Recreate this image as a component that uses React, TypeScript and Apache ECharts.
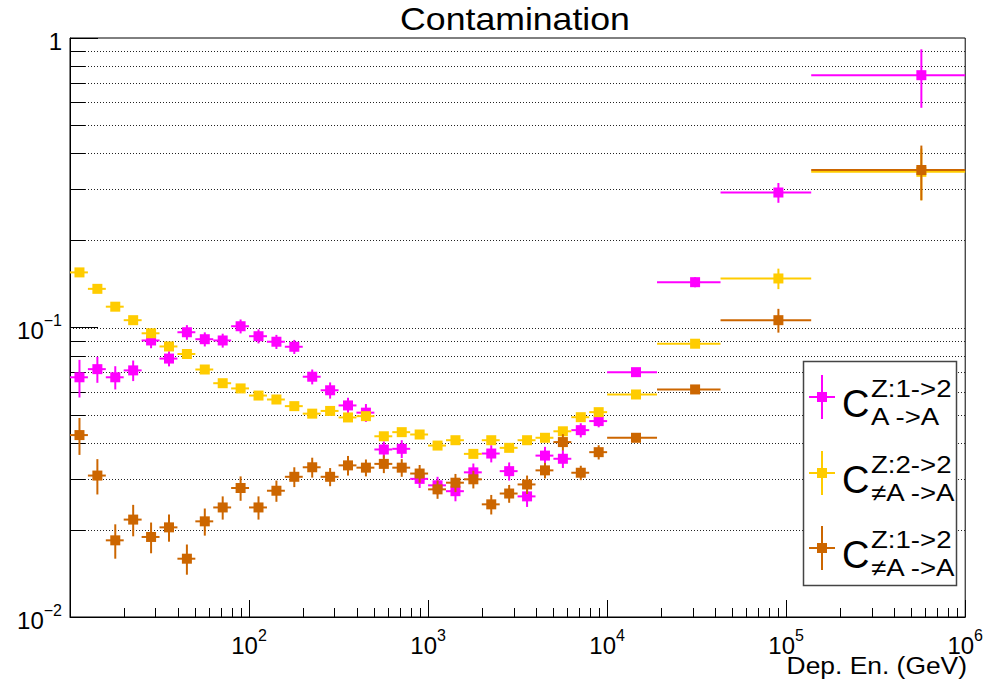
import React, { useEffect, useRef } from 'react';
import * as echarts from 'echarts';

const FONT = '"Liberation Sans", Arial, Helvetica, sans-serif';

const TITLE = 'Contamination';
const X_NAME = 'Dep. En. (GeV)';

// bin edges (GeV)
const BIN_EDGES = [
  10, 12.59, 15.85, 19.95, 25.12, 31.62, 39.81, 50.12, 63.1, 79.43,
  100, 125.9, 158.5, 199.5, 251.2, 316.2, 398.1, 501.2, 631.0, 794.3,
  1000, 1259, 1585, 1995, 2512, 3162, 3981, 5012, 6310, 7943,
  10000, 19000, 43000, 138000, 1000000,
];

const MAGENTA_VALS = [
  0.0673, 0.0718, 0.0673, 0.0711, 0.0902, 0.0781, 0.0963, 0.0911, 0.0902, 0.101,
  0.0933, 0.0893, 0.0858, 0.0676, 0.0607, 0.0538, 0.0508, 0.0379, 0.0381, 0.03,
  0.0285, 0.0272, 0.0316, 0.0367, 0.0319, 0.0261, 0.0361, 0.0352, 0.0442, 0.0475,
  0.0701, 0.1434, 0.2926, 0.744,
];
const MAGENTA_ERRS = [
  0.01, 0.0074, 0.0062, 0.0058, 0.0054, 0.0047, 0.0056, 0.0051, 0.005, 0.0056,
  0.0052, 0.005, 0.0048, 0.004, 0.0039, 0.0034, 0.0036, 0.0025, 0.0027, 0.0021,
  0.002, 0.0021, 0.0023, 0.0025, 0.0023, 0.0021, 0.0026, 0.0025, 0.0025, 0.0023,
  0.0017, 0.0057, 0.023, 0.17,
];

const YELLOW_VALS = [
  0.155, 0.136, 0.118, 0.106, 0.0955, 0.086, 0.081, 0.0716, 0.0642, 0.0616,
  0.0582, 0.0564, 0.0535, 0.0504, 0.0515, 0.0489, 0.0494, 0.0421, 0.0435, 0.0427,
  0.0391, 0.0408, 0.0366, 0.0408, 0.0384, 0.0408, 0.0416, 0.0438, 0.049, 0.051,
  0.0587, 0.0879, 0.1477, 0.345,
];
const YELLOW_ERRS = [
  0.003, 0.0027, 0.0024, 0.0021, 0.0019, 0.0017, 0.0016, 0.0014, 0.0013, 0.0012,
  0.0012, 0.0011, 0.0011, 0.001, 0.001, 0.001, 0.001, 0.0008, 0.0009, 0.0009,
  0.0008, 0.0008, 0.0007, 0.0008, 0.0008, 0.0008, 0.0008, 0.0009, 0.001, 0.001,
  0.0012, 0.0026, 0.012, 0.07,
];

const ORANGE_VALS = [
  0.0425, 0.0308, 0.0184, 0.0217, 0.0189, 0.0204, 0.0159, 0.0214, 0.0239, 0.0279,
  0.0239, 0.0273, 0.0305, 0.0329, 0.0305, 0.0334, 0.0328, 0.0338, 0.0328, 0.0313,
  0.0276, 0.0291, 0.0299, 0.0245, 0.0267, 0.0287, 0.0321, 0.0402, 0.0315, 0.0371,
  0.0416, 0.0611, 0.106, 0.35,
];
const ORANGE_ERRS = [
  0.0062, 0.0043, 0.0025, 0.0027, 0.0023, 0.0022, 0.0019, 0.0023, 0.0022, 0.0027,
  0.0022, 0.0023, 0.0024, 0.0026, 0.0022, 0.0026, 0.0022, 0.0024, 0.0023, 0.0022,
  0.002, 0.0021, 0.0021, 0.0019, 0.0019, 0.0021, 0.002, 0.0026, 0.0018, 0.0021,
  0.001, 0.0019, 0.01, 0.075,
];

const MAGENTA = '#ff00ff';
const YELLOW = '#ffcc00';
const ORANGE = '#cc6600';

const LEGEND = [
  { name: 'C Z:1->2 A->A', sup: 'Z:1->2', sub: 'A ->A', color: MAGENTA },
  { name: 'C Z:2->2 notA->A', sup: 'Z:2->2', sub: '\u2260A ->A', color: YELLOW },
  { name: 'C Z:1->2 notA->A', sup: 'Z:1->2', sub: '\u2260A ->A', color: ORANGE },
];

const X_MIN = 10, X_MAX = 1e6, Y_MIN = 0.01, Y_MAX = 1;

function minorValues(lo: number, hi: number) {
  const out: number[] = [];
  for (let d = lo; d < hi; d *= 10) {
    for (let k = 2; k <= 9; k++) out.push(d * k);
  }
  return out;
}
const X_MINOR = minorValues(10, 1e6);
const Y_MINOR = minorValues(0.01, 1);
const Y_GRID = [...Y_MINOR, 0.1].sort((a, b) => a - b);

function errSeries(name: string, vals: number[], errs: number[], color: string, z: number) {
  const data = vals.map((v, i) => {
    const lo = BIN_EDGES[i], hi = BIN_EDGES[i + 1];
    return [(lo + hi) / 2, v, lo, hi, v - errs[i], v + errs[i]];
  });
  return {
    type: 'custom', name, z, clip: true, data, encode: { x: 0, y: 1 },
    renderItem: (params: any, api: any) => {
      const xc = api.value(0), y = api.value(1), xlo = api.value(2), xhi = api.value(3);
      const ylo = api.value(4), yhi = api.value(5);
      const p = api.coord([xc, y]);
      const pl = api.coord([xlo, y]);
      const ph = api.coord([xhi, y]);
      const pt = api.coord([xc, yhi]);
      const pb = api.coord([xc, ylo]);
      const s = 10;
      return {
        type: 'group',
        children: [
          { type: 'line', shape: { x1: pl[0], y1: p[1], x2: ph[0], y2: p[1] }, style: { stroke: color, lineWidth: 2 } },
          { type: 'line', shape: { x1: p[0], y1: pt[1], x2: p[0], y2: pb[1] }, style: { stroke: color, lineWidth: 2 } },
          { type: 'rect', shape: { x: p[0] - s / 2, y: p[1] - s / 2, width: s, height: s }, style: { fill: color } },
        ],
      };
    },
  };
}

function expLabel(v: number) {
  const e = Math.round(Math.log10(v));
  if (Math.abs(v - Math.pow(10, e)) > 1e-6 * v) return '';
  if (e === 0) return '{b|1}';
  const es = e < 0 ? '\u2212' + Math.abs(e) : String(e);
  return '{b|10}{s|' + es + '}';
}

const labelRich = {
  b: { fontFamily: FONT, fontSize: 24, color: '#000', lineHeight: 30, verticalAlign: 'bottom' },
  s: { fontFamily: FONT, fontSize: 16, color: '#000', lineHeight: 30, verticalAlign: 'top', padding: [0, 0, 10, 0] },
};

export default function App() {
  const ref = useRef<HTMLDivElement>(null);
  useEffect(() => {
    const chart = echarts.init(ref.current!, null, { renderer: 'svg', width: 986, height: 682 });
    const legendGraphics: any[] = [
      {
        type: 'rect', shape: { x: 803.5, y: 361.5, width: 153, height: 224 },
        style: { fill: '#fff', stroke: '#444', lineWidth: 1.5 }, z: 10,
      },
    ];
    const centers = [397, 473, 548];
    LEGEND.forEach((e, i) => {
      const cy = centers[i];
      legendGraphics.push(
        { type: 'line', shape: { x1: 809, y1: cy, x2: 835, y2: cy }, style: { stroke: e.color, lineWidth: 2 }, z: 11 },
        { type: 'line', shape: { x1: 822, y1: cy - 22, x2: 822, y2: cy + 22 }, style: { stroke: e.color, lineWidth: 2 }, z: 11 },
        { type: 'rect', shape: { x: 817, y: cy - 5, width: 10, height: 10 }, style: { fill: e.color }, z: 11 },
        { type: 'text', x: 842, y: cy + 7, style: { text: 'C', font: '38px ' + FONT, fill: '#000', textAlign: 'left', textVerticalAlign: 'middle' }, z: 11 },
        { type: 'text', x: 871, y: cy - 8.5, scaleX: 1.15, style: { text: e.sup, font: '24px ' + FONT, fill: '#000', textAlign: 'left', textVerticalAlign: 'middle' }, z: 11 },
        { type: 'text', x: 871, y: cy + 19.5, scaleX: 1.15, style: { text: e.sub, font: '24px ' + FONT, fill: '#000', textAlign: 'left', textVerticalAlign: 'middle' }, z: 11 },
      );
    });

    const option: any = {
      animation: false,
      backgroundColor: '#fff',
      grid: { left: 70, top: 38, width: 897, height: 579, show: true, borderColor: '#000', borderWidth: 1, backgroundColor: 'transparent', containLabel: false },
      xAxis: {
        type: 'log', logBase: 10, min: X_MIN, max: X_MAX,
        axisLine: { show: true, lineStyle: { color: '#000', width: 1 } },
        axisTick: { show: true, inside: true, length: 17, lineStyle: { color: '#000', width: 1 } },
        minorTick: { show: false },
        splitLine: { show: false },
        axisLabel: {
          showMinLabel: false, margin: 10,
          formatter: (v: number) => expLabel(v), rich: labelRich,
        },
      },
      yAxis: {
        type: 'log', logBase: 10, min: Y_MIN, max: Y_MAX,
        axisLine: { show: true, lineStyle: { color: '#000', width: 1 } },
        axisTick: { show: true, inside: true, length: 28, lineStyle: { color: '#000', width: 1 } },
        minorTick: { show: false },
        splitLine: { show: false },
        axisLabel: {
          margin: 8,
          formatter: (v: number) => expLabel(v), rich: labelRich,
        },
      },
      graphic: [
        { type: 'text', x: 515, y: 19, scaleX: 1.15, style: { text: TITLE, font: '31px ' + FONT, fill: '#000', textAlign: 'center', textVerticalAlign: 'middle' } },
        { type: 'text', x: 967, y: 665, scaleX: 1.1, style: { text: X_NAME, font: '24px ' + FONT, fill: '#000', textAlign: 'right', textVerticalAlign: 'middle' } },
        ...legendGraphics,
      ],
      series: [
        {
          type: 'custom', name: 'gridlines', z: 1, silent: true,
          data: Y_GRID.map((v) => [X_MIN, v]),
          encode: { x: 0, y: 1 },
          renderItem: (params: any, api: any) => {
            const a = api.coord([X_MIN, api.value(1)]);
            const b = api.coord([X_MAX, api.value(1)]);
            return { type: 'line', shape: { x1: a[0], y1: Math.round(a[1]) + 0.5, x2: b[0], y2: Math.round(a[1]) + 0.5 }, style: { stroke: '#222', lineWidth: 1, lineDash: [1, 2] } };
          },
        },
        {
          type: 'custom', name: 'yminor', z: 2, silent: true,
          data: Y_MINOR.map((v) => [X_MIN, v]),
          encode: { x: 0, y: 1 },
          renderItem: (params: any, api: any) => {
            const a = api.coord([X_MIN, api.value(1)]);
            const y = Math.round(a[1]) + 0.5;
            return { type: 'line', shape: { x1: a[0], y1: y, x2: a[0] + 15, y2: y }, style: { stroke: '#000', lineWidth: 1 } };
          },
        },
        {
          type: 'custom', name: 'xminor', z: 2, silent: true,
          data: X_MINOR.map((v) => [v, Y_MIN]),
          encode: { x: 0, y: 1 },
          renderItem: (params: any, api: any) => {
            const a = api.coord([api.value(0), Y_MIN]);
            const x = Math.round(a[0]) + 0.5;
            return { type: 'line', shape: { x1: x, y1: a[1], x2: x, y2: a[1] - 9 }, style: { stroke: '#000', lineWidth: 1 } };
          },
        },
        errSeries(LEGEND[0].name, MAGENTA_VALS, MAGENTA_ERRS, MAGENTA, 3),
        errSeries(LEGEND[1].name, YELLOW_VALS, YELLOW_ERRS, YELLOW, 4),
        errSeries(LEGEND[2].name, ORANGE_VALS, ORANGE_ERRS, ORANGE, 5),
      ],
    };
    chart.setOption(option);
    return () => chart.dispose();
  }, []);
  return <div ref={ref} style={{ position: 'fixed', left: 0, top: 0, width: 986, height: 682, background: '#fff' }} />;
}
